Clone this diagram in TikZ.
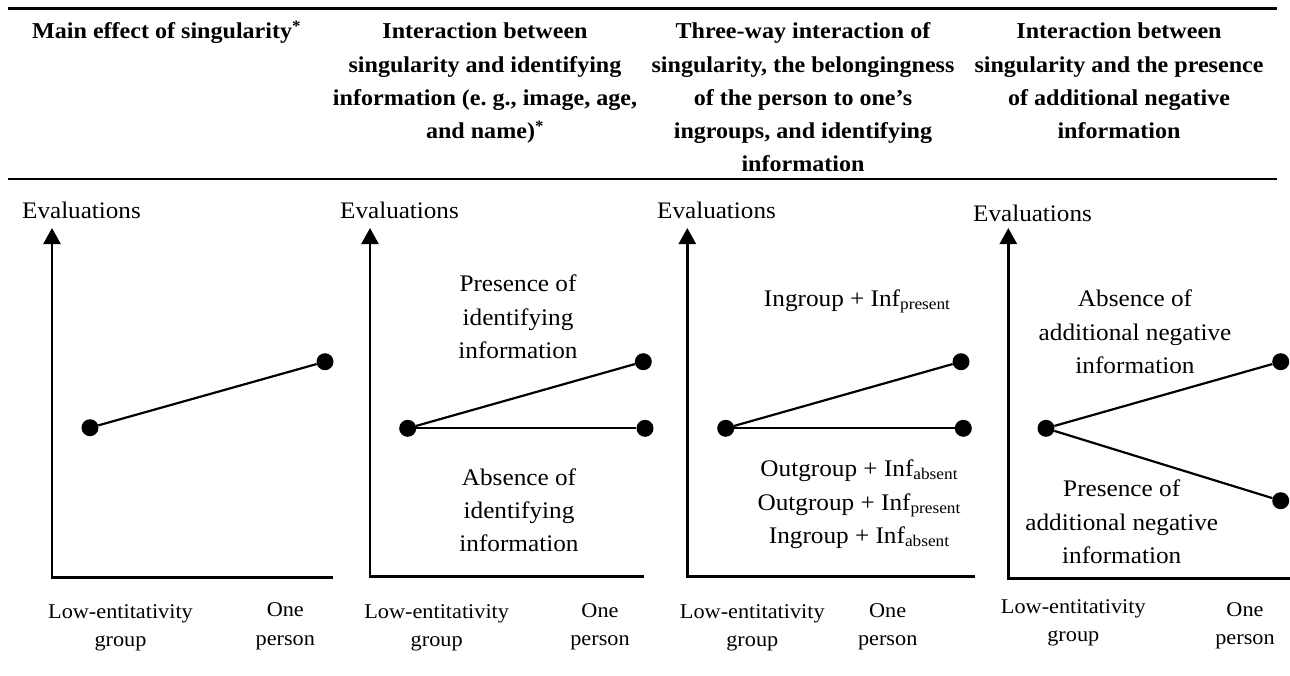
\documentclass[tikz,border=0pt]{standalone}
\usepackage{fontspec}
\setmainfont{Liberation Serif}[FakeStretch=1.06]
\usetikzlibrary{arrows.meta}
\newcommand\stack[1]{\begin{tabular}[t]{@{}c@{}}#1\end{tabular}}
\newcommand\subt[1]{\raisebox{-3pt}{\fontsize{16.3}{16.3}\selectfont #1}}
\tikzset{
  hd/.style={font=\bfseries\fontsize{22.7}{33.3}\selectfont, anchor=base, inner sep=0pt},
  ev/.style={font=\fontsize{23.7}{27}\selectfont, anchor=base west, inner sep=0pt},
  ax/.style={font=\fontsize{21}{28.3}\selectfont, anchor=base, inner sep=0pt},
  lab/.style={font=\fontsize{23.8}{33.3}\selectfont, anchor=base, inner sep=0pt},
  dot/.style={circle, fill=black, inner sep=0pt, minimum size=17pt},
  axisline/.style={line width=2.6pt, line join=miter, -{Triangle[width=17pt,length=16pt]}},
  dataline/.style={line width=2.2pt},
  rule/.style={line width=2.7pt}
}
\begin{document}
\begin{tikzpicture}[x=1pt,y=-1pt]
\useasboundingbox (0,0) rectangle (1290,675);
% rules
\coordinate (r1l) at (8,8.3); \coordinate (r1r) at (1277,8.3);
\coordinate (r2l) at (8,179); \coordinate (r2r) at (1277,179);
\draw[rule] (r1l) -- (r1r);
\draw[rule] (r2l) -- (r2r);
% headers
\node[hd, anchor=base west] (h1) at (32,38.7) {Main effect of singularity\textsuperscript{*}};
\node[hd] (h2) at (485,38.7) {\stack{Interaction between\\ singularity and identifying\\ information (e.\ g., image, age,\\ and name)\textsuperscript{*}}};
\node[hd] (h3) at (803,38.7) {\stack{Three-way interaction of\\ singularity, the belongingness\\ of the person to one’s\\ ingroups, and identifying\\ information}};
\node[hd] (h4) at (1119,38.7) {\stack{Interaction between\\ singularity and the presence\\ of additional negative\\ information}};
% y-axis titles
\node[ev] (e1) at (22,218.3) {Evaluations};
\node[ev] (e2) at (340,218.3) {Evaluations};
\node[ev] (e3) at (657,218.3) {Evaluations};
\node[ev] (e4) at (973,221.5) {Evaluations};
% axes
\coordinate (o1) at (52,577.7); \coordinate (t1) at (52,228); \coordinate (x1) at (333,577.7);
\coordinate (o2) at (370,576.7); \coordinate (t2) at (370,228); \coordinate (x2) at (644,576.7);
\coordinate (o3) at (687.3,576.7); \coordinate (t3) at (687.3,228); \coordinate (x3) at (975,576.7);
\coordinate (o4) at (1008.3,578.3); \coordinate (t4) at (1008.3,228); \coordinate (x4) at (1290,578.3);
\draw[axisline] (x1) -- (o1) -- (t1);
\draw[axisline] (x2) -- (o2) -- (t2);
\draw[axisline] (x3) -- (o3) -- (t3);
\draw[axisline] (x4) -- (o4) -- (t4);
% dots
\node[dot] (a1) at (90,427.7) {};
\node[dot] (b1) at (325,361.7) {};
\node[dot] (a2) at (407.7,428.3) {};
\node[dot] (b2) at (643.3,361.7) {};
\node[dot] (c2) at (645,428.3) {};
\node[dot] (a3) at (725.7,428.3) {};
\node[dot] (b3) at (961,361.7) {};
\node[dot] (c3) at (963.3,428.3) {};
\node[dot] (a4) at (1046,428.3) {};
\node[dot] (b4) at (1280.7,361.7) {};
\node[dot] (c4) at (1280.7,500.7) {};
% data lines
\draw[dataline] (a1) -- (b1);
\draw[dataline] (a2) -- (b2);
\draw[dataline] (a2) -- (c2);
\draw[dataline] (a3) -- (b3);
\draw[dataline] (a3) -- (c3);
\draw[dataline] (a4) -- (b4);
\draw[dataline] (a4) -- (c4);
% inner labels
\node[lab] (l2a) at (518,291.7) {\stack{Presence of\\ identifying\\ information}};
\node[lab] (l2b) at (519,485) {\stack{Absence of\\ identifying\\ information}};
\node[lab] (l3a) at (857,306.7) {Ingroup + Inf\subt{present}};
\node[lab] (l3b) at (859,476.7) {\stack{Outgroup + Inf\subt{absent}\\ Outgroup + Inf\subt{present}\\ Ingroup + Inf\subt{absent}}};
\node[lab] (l4a) at (1135,306.7) {\stack{Absence of\\ additional negative\\ information}};
\node[lab] (l4b) at (1121.7,496.7) {\stack{Presence of\\ additional negative\\ information}};
% x-axis labels
\node[ax] (g1) at (120.5,618) {\stack{Low-entitativity\\ group}};
\node[ax] (p1) at (285.3,616.7) {\stack{One\\ person}};
\node[ax] (g2) at (436.7,618) {\stack{Low-entitativity\\ group}};
\node[ax] (p2) at (600,617) {\stack{One\\ person}};
\node[ax] (g3) at (752.3,618) {\stack{Low-entitativity\\ group}};
\node[ax] (p3) at (887.7,617) {\stack{One\\ person}};
\node[ax] (g4) at (1073.3,613.3) {\stack{Low-entitativity\\ group}};
\node[ax] (p4) at (1245,616) {\stack{One\\ person}};
\end{tikzpicture}
\end{document}
